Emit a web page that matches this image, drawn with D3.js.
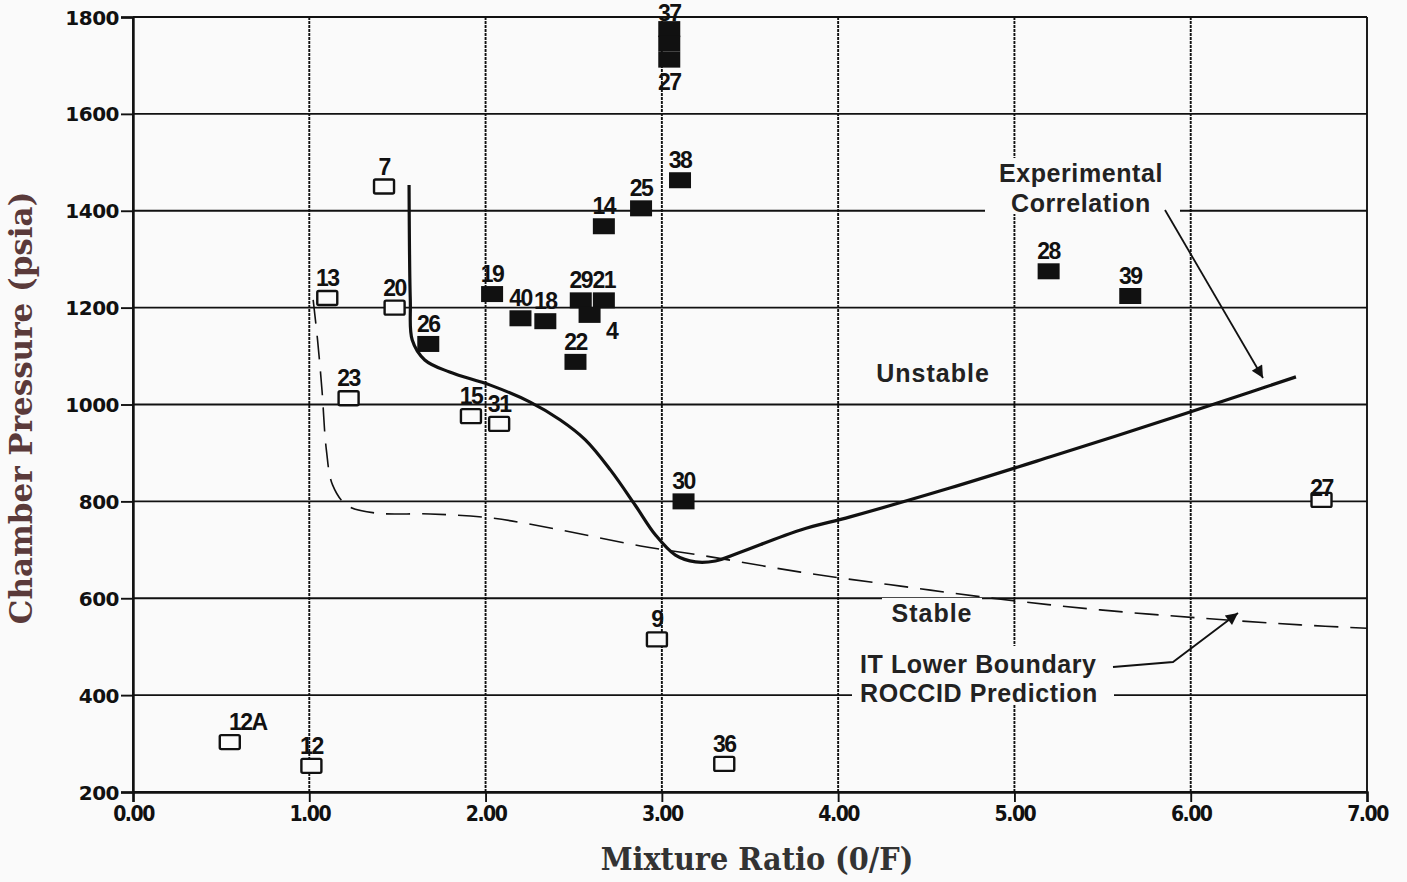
<!DOCTYPE html>
<html><head><meta charset="utf-8">
<script src="https://cdn.jsdelivr.net/npm/d3@7"></script>
<style>
html,body{margin:0;padding:0;background:#fafafa;}
svg{display:block;}
</style></head>
<body>
<svg id="chart" width="1407" height="882"></svg>
<script>
// ---- data ----
const xTicks = [0,1,2,3,4,5,6,7];
const xTickLabels = ["0.00","1.00","2.00","3.00","4.00","5.00","6.00","7.00"];
const yTicks = [200,400,600,800,1000,1200,1400,1600,1800];

// stable (open) tests
const stableLabels = ["7","13","20","23","15","31","9","36","12A","12","27"];
const stableX      = [1.424,1.102,1.484,1.223,1.917,2.077,2.972,3.354,0.549,1.012,6.742];
const stableY      = [1450,1220,1200,1013,976,960,515,258,303,254,803];

// unstable (filled) tests ("" = illegible label in the source)
const unstableLabels = ["26","19","40","18","29","21","4","22","14","25","38","37","","27","30","28","39"];
const unstableX      = [1.675,2.037,2.198,2.339,2.54,2.671,2.59,2.51,2.671,2.882,3.103,3.042,3.042,3.042,3.123,5.194,5.657];
const unstableY      = [1125,1228,1178,1172,1215,1215,1185,1088,1368,1405,1463,1775,1745,1712,800,1275,1224];

// Experimental correlation (solid curve)
const corrX = [1.566,1.573,1.584,1.655,1.796,2.027,2.253,2.424,2.566,2.708,2.849,2.963,3.077,3.191,3.304,3.445,3.787,4.068,4.638,5.204,5.773,6.340,6.597];
const corrY = [1453,1216,1133,1092,1067,1040,1005,968,927,865,792,731,689,675,677,695,741,768,828,892,958,1026,1057];

// IT lower boundary ROCCID prediction (dashed curve)
const roccX = [1.022,1.047,1.072,1.097,1.132,1.213,1.373,1.685,2.027,2.424,2.879,3.219,3.787,4.355,4.923,5.486,6.059,6.622,7.0];
const roccY = [1216,1133,1030,906,834,792,776,774,766,741,708,689,654,625,598,576,559,545,538];

// ---- layout ----
const svg = d3.select("#chart");
const L = 133, R = 1367, T = 17, B = 792;
const x = d3.scaleLinear().domain([0,7]).range([L,R]);
const y = d3.scaleLinear().domain([200,1800]).range([B,T]);
const ink = "#111";

// grid
const g = svg.append("g");
g.selectAll(".hg").data(yTicks).join("line")
  .attr("x1",L).attr("x2",R).attr("y1",d=>y(d)).attr("y2",d=>y(d))
  .attr("stroke",ink).attr("stroke-width",1.8);
g.selectAll(".vg").data(xTicks).join("line")
  .attr("y1",T).attr("y2",B).attr("x1",d=>x(d)).attr("x2",d=>x(d))
  .attr("stroke",ink).attr("stroke-width",1.9).attr("stroke-dasharray",d=>d===0||d===7?null:"3,1");

// axes
const yAxis = d3.axisLeft(y).tickValues(yTicks).tickSize(12).tickFormat(d3.format("d"));
const xAxis = d3.axisBottom(x).tickValues(xTicks).tickSize(10).tickFormat((d,i)=>xTickLabels[i]);
const ya = svg.append("g").attr("transform",`translate(${L},0)`).call(yAxis);
const xa = svg.append("g").attr("transform",`translate(0,${B})`).call(xAxis);
[ya,xa].forEach(a=>{
  a.select(".domain").attr("stroke",ink).attr("stroke-width",2.4);
  a.selectAll(".tick line").attr("stroke",ink).attr("stroke-width",1.9);
  a.selectAll("text").attr("fill",ink).attr("font-family","'DejaVu Sans', sans-serif")
    .attr("font-weight","bold");
});
ya.selectAll("text").attr("x",-14).attr("dy","0.35em").attr("font-size",20).attr("letter-spacing","-0.5");
xa.selectAll("text").attr("y",14).attr("font-size",21).attr("letter-spacing","-1.5")
  .attr("font-family","'DejaVu Sans Condensed', 'DejaVu Sans', sans-serif").attr("font-stretch","condensed");

// annotation backgrounds (interrupt grid)
const bg = svg.append("g");
function bgRect(x0,y0,w,h){bg.append("rect").attr("x",x0).attr("y",y0).attr("width",w).attr("height",h).attr("fill","#fafafa");}
bgRect(985,158,195,56);
bgRect(852,646,262,58);
bgRect(866,357,132,28);
bgRect(882,598,100,30);

// curves
const line = d3.line().x(d=>x(d[0])).y(d=>y(d[1])).curve(d3.curveCatmullRom.alpha(0.5));
svg.append("path").datum(roccX.map((v,i)=>[v,roccY[i]])).attr("d",line)
  .attr("fill","none").attr("stroke",ink).attr("stroke-width",1.6).attr("stroke-dasharray","24,12");
svg.append("path").datum(corrX.map((v,i)=>[v,corrY[i]])).attr("d",line)
  .attr("fill","none").attr("stroke",ink).attr("stroke-width",3.2);

// markers
const ms = svg.append("g");
ms.selectAll(".op").data(stableX.map((v,i)=>[v,stableY[i]])).join("rect")
  .attr("x",d=>x(d[0])-10).attr("y",d=>y(d[1])-7).attr("width",20).attr("height",14).attr("rx",1.5)
  .attr("fill","#fafafa").attr("stroke",ink).attr("stroke-width",2.4);
ms.selectAll(".fl").data(unstableX.map((v,i)=>[v,unstableY[i]])).join("rect")
  .attr("x",d=>x(d[0])-11).attr("y",d=>y(d[1])-8).attr("width",22).attr("height",16)
  .attr("fill",ink);

// point labels
function lbl(lbls,xs,ys,isStable){
  const items = lbls.map((d,i)=>({t:d,px:x(xs[i]),py:y(ys[i])})).filter(o=>o.t!=="");
  ms.selectAll(null).data(items).join("text")
    .attr("x",o=>{let px=o.px; if(!isStable&&o.t==="4") px+=22; if(isStable&&o.t==="12A") px+=18; return px;})
    .attr("y",o=>{const py=o.py; if(!isStable&&o.t==="4") return py+24; if(!isStable&&o.t==="27") return py+30; if(!isStable&&o.t==="37") return 21; if(isStable&&o.t==="27") return py-4; return py-12;})
    .attr("text-anchor","middle").attr("font-family","'Liberation Sans', Arial, sans-serif")
    .attr("font-weight","bold").attr("font-size",23).attr("letter-spacing","-1.5").attr("fill",ink)
    .text(o=>o.t);
}
lbl(stableLabels,stableX,stableY,true);
lbl(unstableLabels,unstableX,unstableY,false);

// annotations
const ann = svg.append("g").attr("font-family","'Liberation Sans', Arial, sans-serif").attr("font-weight","bold").attr("fill","#222")
  .attr("font-size",25).attr("letter-spacing","0.6");
ann.append("text").attr("x",1081).attr("y",182).attr("text-anchor","middle").text("Experimental");
ann.append("text").attr("x",1081).attr("y",212).attr("text-anchor","middle").text("Correlation");
ann.append("text").attr("x",933).attr("y",382).attr("text-anchor","middle").attr("letter-spacing","1").text("Unstable");
ann.append("text").attr("x",932).attr("y",622).attr("text-anchor","middle").attr("letter-spacing","1").text("Stable");
ann.append("text").attr("x",860).attr("y",673).text("IT Lower Boundary");
ann.append("text").attr("x",860).attr("y",702).text("ROCCID Prediction");

// arrows
const defs = svg.append("defs");
defs.append("marker").attr("id","ah").attr("viewBox","0 0 10 10").attr("refX",10).attr("refY",5)
  .attr("markerWidth",22).attr("markerHeight",12).attr("markerUnits","userSpaceOnUse").attr("orient","auto")
  .append("path").attr("d","M0,0L10,5L0,10z").attr("fill",ink);
svg.append("path").attr("d","M1165,210L1263,378").attr("stroke",ink).attr("stroke-width",1.8).attr("fill","none").attr("marker-end","url(#ah)");
svg.append("path").attr("d","M1113,667L1173,662L1238,613").attr("stroke",ink).attr("stroke-width",1.8).attr("fill","none").attr("marker-end","url(#ah)");

// axis titles
svg.append("text").attr("transform","translate(32,408) rotate(-90)").attr("text-anchor","middle")
  .attr("font-family","'DejaVu Serif', serif").attr("font-weight","bold").attr("font-size",31)
  .attr("fill","#5a3a3a").text("Chamber Pressure (psia)");
svg.append("text").attr("x",757).attr("y",870).attr("text-anchor","middle")
  .attr("font-family","'DejaVu Serif Condensed', 'DejaVu Serif', serif").attr("font-stretch","condensed")
  .attr("font-weight","bold").attr("font-size",32).attr("fill","#333").text("Mixture Ratio (0/F)");
</script>
</body></html>
